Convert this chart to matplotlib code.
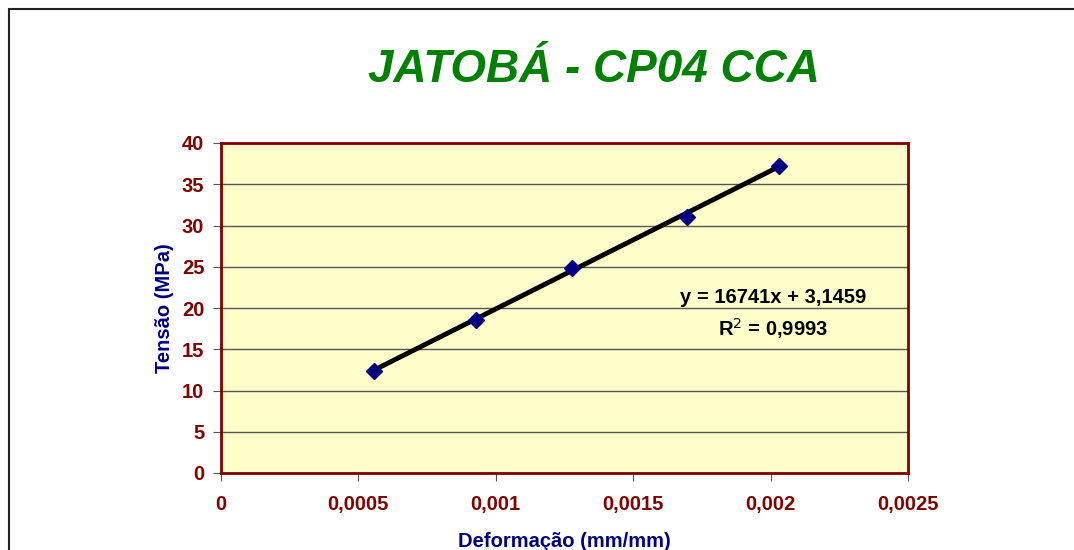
import matplotlib
matplotlib.use('Agg')
import matplotlib.pyplot as plt
from matplotlib.patches import Rectangle
from matplotlib.ticker import FuncFormatter

plt.rcParams['font.family'] = ['Liberation Sans', 'DejaVu Sans']

# data
deformacao = [0.000557, 0.000928, 0.001277, 0.001696, 0.00203]
tensao = [12.4, 18.6, 24.8, 31.0, 37.2]
slope = 16741
intercept = 3.1459
r2 = 0.9993

x_ticks = [0, 0.0005, 0.001, 0.0015, 0.002, 0.0025]
y_ticks = [0, 5, 10, 15, 20, 25, 30, 35, 40]

W, H = 1074, 550
fig = plt.figure(figsize=(W / 100, H / 100), dpi=100)
fig.patch.set_facecolor('white')

# outer chart frame (runs off the right and bottom edges)
fig.patches.append(Rectangle((9 / W, -0.1), 1.2, 1 - 9 / H + 0.1, transform=fig.transFigure,
                             fill=False, edgecolor='#222222', linewidth=1.5))

ax = fig.add_axes([221 / W, 1 - 473 / H, 687 / W, 330 / H])
ax.set_facecolor('#FFFFCC')
ax.set_xlim(0, 0.0025)
ax.set_ylim(0, 40)
ax.set_xticks(x_ticks)
ax.set_yticks(y_ticks)

fmt = FuncFormatter(lambda v, p: ('%g' % v).replace('.', ','))
ax.xaxis.set_major_formatter(fmt)
ax.yaxis.set_major_formatter(fmt)

for s in ax.spines.values():
    s.set_color('#800000')
    s.set_linewidth(2)

ax.grid(axis='y', color='#555555', linewidth=1)
ax.set_axisbelow(True)
ax.tick_params(axis='both', direction='out', length=6, color='#555555',
               labelcolor='#800000', labelsize=14.5)
ax.tick_params(axis='x', pad=10)
ax.tick_params(axis='y', pad=6)
for lab in ax.get_xticklabels() + ax.get_yticklabels():
    lab.set_fontweight('bold')

# trend line over data range
x0, x1 = deformacao[0], deformacao[-1]
ax.plot([x0, x1], [slope * x0 + intercept, slope * x1 + intercept],
        color='black', linewidth=3.5, zorder=3)
ax.plot(deformacao, tensao, linestyle='none', marker='D', markersize=8,
        markerfacecolor='#000080', markeredgecolor='#000080', zorder=4)

ax.text(0.00201, 21.3, 'y = %dx + %s' % (slope, ('%.4f' % intercept).replace('.', ',')),
        ha='center', va='center', fontsize=14.5, fontweight='bold', color='black')
ax.text(0.00201, 17.5, 'R$^2$ = %s' % ('%.4f' % r2).replace('.', ','),
        ha='center', va='center', fontsize=14.5, fontweight='bold', color='black')

ax.set_xlabel('Deformação (mm/mm)', color='#000080', fontsize=14.5, fontweight='bold', labelpad=13)
ax.set_ylabel('Tensão (MPa)', color='#000080', fontsize=14.5, fontweight='bold', labelpad=6)

fig.text(594 / W, 1 - 70 / H, 'JATOBÁ - CP04 CCA', ha='center', va='center',
         fontsize=33, fontweight='bold', fontstyle='italic', color='#008000')

fig.savefig('out.png', dpi=100)
